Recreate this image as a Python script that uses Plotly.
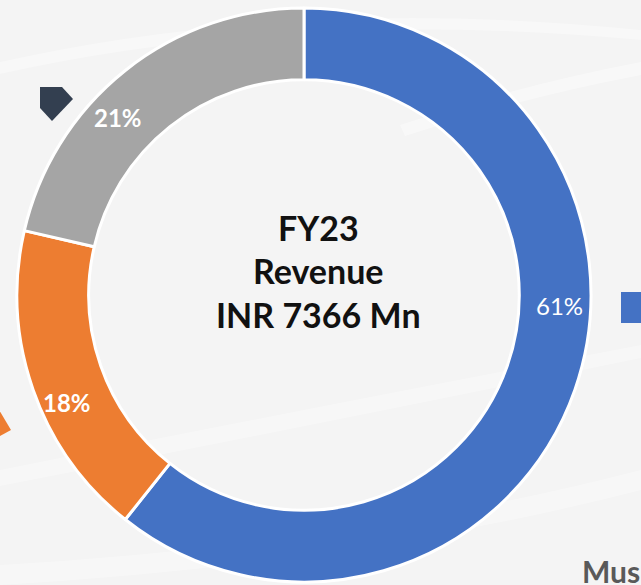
import plotly.graph_objects as go

# revenue split, FY23 (share of INR 7366 Mn)
segments = ["Segment A", "Segment B", "Segment C"]
shares = [60.7, 17.9, 21.4]
colors = ["#4472C4", "#ED7D31", "#A5A5A5"]
center_lines = ["FY23", "Revenue", "INR 7366 Mn"]

W, H = 641, 585
BG = "#F4F4F4"


def px(x, y):
    # pixel position -> paper coords
    return x / W, 1 - y / H


fig = go.Figure()
fig.add_trace(
    go.Pie(
        labels=segments,
        values=shares,
        hole=0.75,
        sort=False,
        direction="clockwise",
        rotation=0,
        marker={"colors": colors, "line": {"color": "white", "width": 3}},
        textinfo="none",
        hoverinfo="label+percent",
        showlegend=False,
        domain={"x": [17 / W, 591 / W], "y": [1 - 582 / H, 1 - 8 / H]},
    )
)

# percentage labels placed as on the slide
label_pos = [(559, 305), (67, 402), (118, 118)]
label_bold = [False, True, True]
for share, (lx, ly), bold in zip(shares, label_pos, label_bold):
    x, y = px(lx, ly)
    txt = f"{round(share)}%"
    fig.add_annotation(
        x=x, y=y, xref="paper", yref="paper", showarrow=False,
        xanchor="center", yanchor="middle",
        text=f"<b>{txt}</b>" if bold else txt,
        font={"family": "Lato", "size": 24, "color": "white"},
    )

# centre text
for line, cy in zip(center_lines, [228, 270, 314]):
    x, y = px(318, cy)
    fig.add_annotation(
        x=x, y=y, xref="paper", yref="paper", showarrow=False,
        xanchor="center", yanchor="middle",
        text=f"<b>{line}</b>",
        font={"family": "Lato", "size": 34, "color": "#111111"},
    )

# bits of the surrounding slide
shapes = [
    # faint swooshes in the background
    dict(type="path", path="M 0 62 Q 300 -5 641 30 L 641 40 Q 300 8 0 74 Z",
         fillcolor="white", opacity=0.35, line_width=0, layer="below"),
    dict(type="path", path="M 400 125 Q 520 85 641 62 L 641 75 Q 520 98 405 136 Z",
         fillcolor="white", opacity=0.4, line_width=0, layer="below"),
    dict(type="path", path="M 0 470 Q 300 410 641 345 L 641 358 Q 300 428 0 486 Z",
         fillcolor="white", opacity=0.3, line_width=0, layer="below"),
    dict(type="path", path="M 0 565 Q 350 545 641 470 L 641 490 Q 350 565 0 585 Z",
         fillcolor="white", opacity=0.3, line_width=0, layer="below"),
    # dark legend marker, blue square, orange corner
    dict(type="path", path="M 40 87 L 62 87 L 73 99 L 52 121 L 40 108 Z",
         fillcolor="#333F50", line_width=0),
    dict(type="rect", x0=621, x1=645, y0=292, y1=323,
         fillcolor="#4472C4", line_width=0),
    dict(type="path", path="M -2 408 L 11 430 L -2 437 Z",
         fillcolor="#ED7D31", line_width=0),
]
for s in shapes:
    s.update(xref="x", yref="y")
    fig.add_shape(**s)

# slide text running off the bottom edge
fig.add_annotation(
    x=580, y=551, xref="x", yref="y", xanchor="left", yanchor="top",
    showarrow=False, text="<b>Mus</b>",
    font={"family": "Lato", "size": 30, "color": "#595959"},
)

fig.update_xaxes(range=[0, W], visible=False, fixedrange=True)
fig.update_yaxes(range=[H, 0], visible=False, fixedrange=True)
fig.update_layout(
    width=W,
    height=H,
    margin={"l": 0, "r": 0, "t": 0, "b": 0},
    paper_bgcolor=BG,
    plot_bgcolor=BG,
    xaxis={"domain": [0, 1]},
    yaxis={"domain": [0, 1]},
)
fig.write_html("out.html", config={"displayModeBar": False},
               post_script="document.body.style.margin='0';")
